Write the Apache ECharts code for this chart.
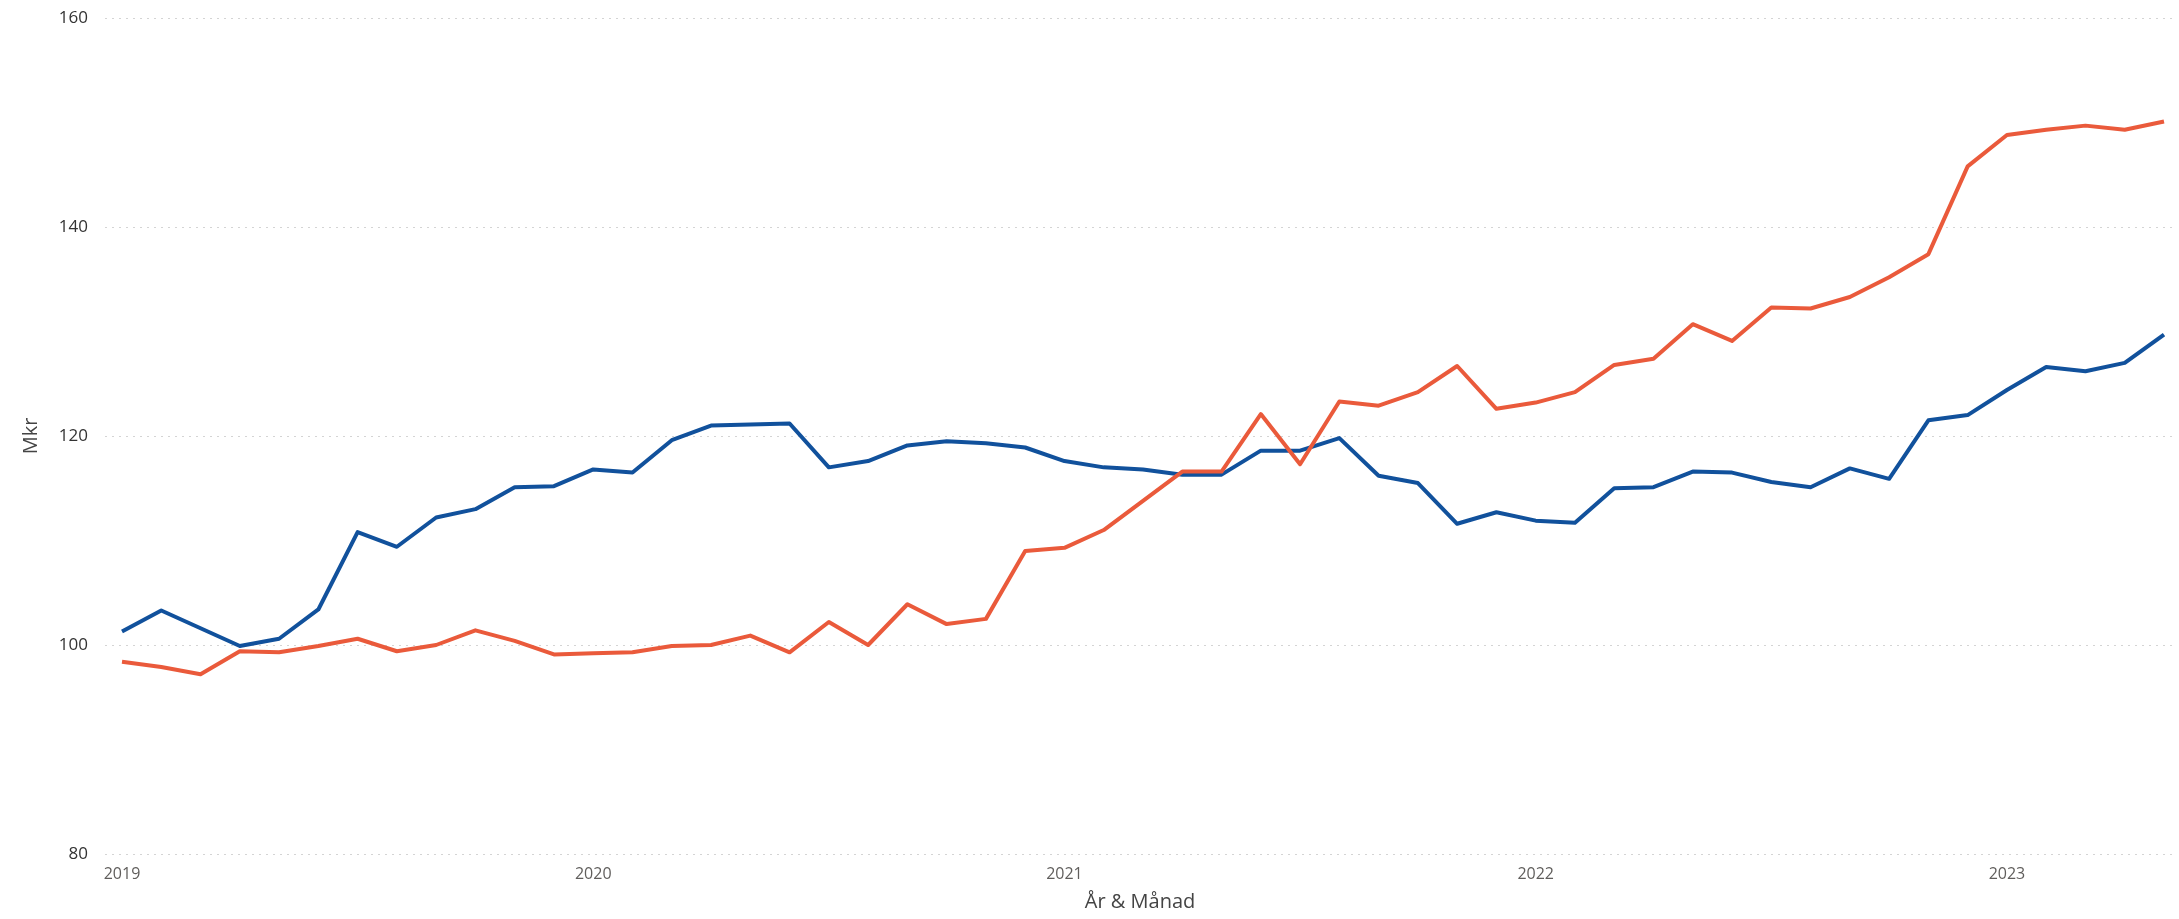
<!DOCTYPE html>
<html>
<head>
<meta charset="utf-8">
<script src="https://cdn.jsdelivr.net/npm/echarts@6/dist/echarts.min.js"></script>
<style>
html,body{margin:0;padding:0;background:#fff;}
#c{width:2179px;height:919px;}
</style>
</head>
<body>
<div id="c"></div>
<script>
// Months Jan 2019 .. May 2023 (index 0..52)
const months = [];
for (let y = 2019; y <= 2023; y++) {
  for (let m = 1; m <= 12; m++) {
    if (y === 2023 && m > 5) break;
    months.push(y + '-' + String(m).padStart(2, '0'));
  }
}
const yearTicks = [0, 12, 24, 36, 48];
const yearLabels = ['2019', '2020', '2021', '2022', '2023'];
const yTicks = [80, 100, 120, 140, 160];

const blueSeries = [
  101.3, 103.3, 101.6, 99.9, 100.6, 103.4, 110.8, 109.4, 112.2, 113.0, 115.1, 115.2,
  116.8, 116.5, 119.6, 121.0, 121.1, 121.2, 117.0, 117.6, 119.1, 119.5, 119.3, 118.9,
  117.6, 117.0, 116.8, 116.3, 116.3, 118.6, 118.6, 119.8, 116.2, 115.5, 111.6, 112.7,
  111.9, 111.7, 115.0, 115.1, 116.6, 116.5, 115.6, 115.1, 116.9, 115.9, 121.5, 122.0,
  124.4, 126.6, 126.2, 127.0, 129.7
];
const redSeries = [
  98.4, 97.9, 97.2, 99.4, 99.3, 99.9, 100.6, 99.4, 100.0, 101.4, 100.4, 99.1,
  99.2, 99.3, 99.9, 100.0, 100.9, 99.3, 102.2, 100.0, 103.9, 102.0, 102.5, 109.0,
  109.3, 111.0, 113.8, 116.6, 116.6, 122.1, 117.3, 123.3, 122.9, 124.2, 126.7, 122.6,
  123.2, 124.2, 126.8, 127.4, 130.7, 129.1, 132.3, 132.2, 133.3, 135.2, 137.4, 145.8,
  148.8, 149.3, 149.7, 149.3, 150.1
];

const chart = echarts.init(document.getElementById('c'), null, {renderer: 'canvas'});
const font = "'Segoe UI', 'Open Sans', 'Noto Sans', sans-serif";
chart.setOption({
  animation: false,
  backgroundColor: '#ffffff',
  grid: {left: 105, right: 4, top: 18, bottom: 65, containLabel: false},
  xAxis: {
    type: 'value',
    min: -0.433,
    max: 52.28,
    name: 'År & Månad',
    nameLocation: 'middle',
    nameGap: 38,
    nameTextStyle: {fontFamily: font, fontSize: 20, color: '#444'},
    axisLine: {show: false},
    axisTick: {show: false},
    splitLine: {show: false},
    axisLabel: {
      customValues: yearTicks,
      formatter: function (v) { const i = yearTicks.indexOf(Math.round(v)); return i >= 0 ? yearLabels[i] : ''; },
      fontFamily: font, fontSize: 16, color: '#605e5c', margin: 12
    }
  },
  yAxis: {
    type: 'value',
    min: yTicks[0],
    max: yTicks[yTicks.length - 1],
    interval: 20,
    name: 'Mkr',
    nameLocation: 'middle',
    nameGap: 64,
    nameRotate: 90,
    nameTextStyle: {fontFamily: font, fontSize: 20, color: '#444'},
    axisLine: {show: false},
    axisTick: {show: false},
    axisLabel: {fontFamily: font, fontSize: 17, color: '#333', margin: 17},
    splitLine: {show: true, lineStyle: {color: '#d4d4d4', width: 1, type: [2, 5]}}
  },
  series: [
    {
      name: 'Blue', type: 'line', symbol: 'none',
      data: blueSeries.map((v, i) => [i, v]),
      lineStyle: {color: '#11519c', width: 4, join: 'round'},
      itemStyle: {color: '#11519c'}
    },
    {
      name: 'Red', type: 'line', symbol: 'none',
      data: redSeries.map((v, i) => [i, v]),
      lineStyle: {color: '#ea5a3b', width: 4, join: 'round'},
      itemStyle: {color: '#ea5a3b'}
    }
  ]
});
</script>
</body>
</html>
